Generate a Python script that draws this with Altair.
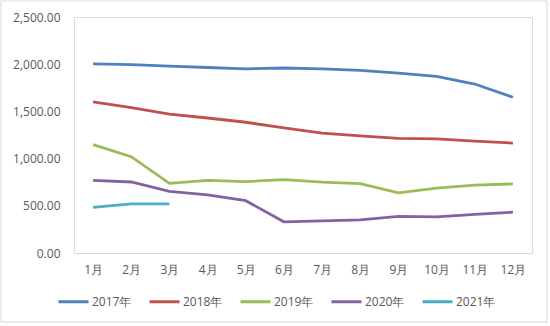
import altair as alt
import pandas as pd

months = ["1月", "2月", "3月", "4月", "5月", "6月", "7月", "8月", "9月", "10月", "11月", "12月"]
s2017 = [2003, 1995, 1980, 1965, 1950, 1960, 1950, 1935, 1905, 1870, 1790, 1650]
s2018 = [1600, 1540, 1470, 1430, 1385, 1325, 1270, 1240, 1215, 1210, 1185, 1165]
s2019 = [1148, 1020, 738, 770, 756, 778, 750, 735, 638, 688, 718, 732]
s2020 = [770, 752, 653, 615, 554, 330, 340, 350, 388, 382, 410, 432]
s2021 = [484, 520, 520]
series_names = ["2017年", "2018年", "2019年", "2020年", "2021年"]
colors = ["#4F81BD", "#C0504D", "#9BBB59", "#8064A2", "#4BACC6"]

rows = []
for name, vals in zip(series_names, [s2017, s2018, s2019, s2020, s2021]):
    for m, v in zip(months, vals):
        rows.append({"month": m, "value": v, "series": name})
df = pd.DataFrame(rows)

W, H = 458, 236
FONT = "Open Sans"
GREY = "#595959"

lines = alt.Chart(df).mark_line(strokeWidth=2.8).encode(
    x=alt.X("month:O", sort=months, scale=alt.Scale(domain=months),
            axis=alt.Axis(title=None, labelAngle=0, ticks=False, domainColor="#D9D9D9",
                          domainWidth=1, labelPadding=11, labelFontSize=12,
                          labelColor=GREY, labelFont=FONT)),
    y=alt.Y("value:Q", scale=alt.Scale(domain=[0, 2500], nice=False),
            axis=alt.Axis(title=None, values=[0, 500, 1000, 1500, 2000, 2500], format=",.2f",
                          domain=False, ticks=False, grid=False, labelPadding=14,
                          labelFontSize=12, labelColor=GREY, labelFont=FONT)),
    color=alt.Color("series:N", sort=series_names,
                    scale=alt.Scale(domain=series_names, range=colors),
                    legend=alt.Legend(title=None, orient="none", direction="horizontal",
                                      legendX=-17, legendY=32 + H, symbolType="stroke",
                                      symbolStrokeWidth=3, symbolSize=900, labelFontSize=12,
                                      labelColor=GREY, labelFont=FONT, labelOffset=2,
                                      columnPadding=11)),
)

frame = alt.Chart(pd.DataFrame({"a": [0]})).mark_rect(
    fill=None, stroke="#D9D9D9", strokeWidth=1
).encode(x=alt.value(-73), x2=alt.value(W + 15), y=alt.value(-16), y2=alt.value(H + 69))

chart = alt.layer(frame, lines).properties(
    width=W, height=H,
    autosize=alt.AutoSizeParams(type="none"),
    padding={"left": 74, "top": 17, "right": 18, "bottom": 73},
).configure_view(stroke=None).configure(background="white")

chart.save("out.html", embed_options={"renderer": "svg", "actions": False})
